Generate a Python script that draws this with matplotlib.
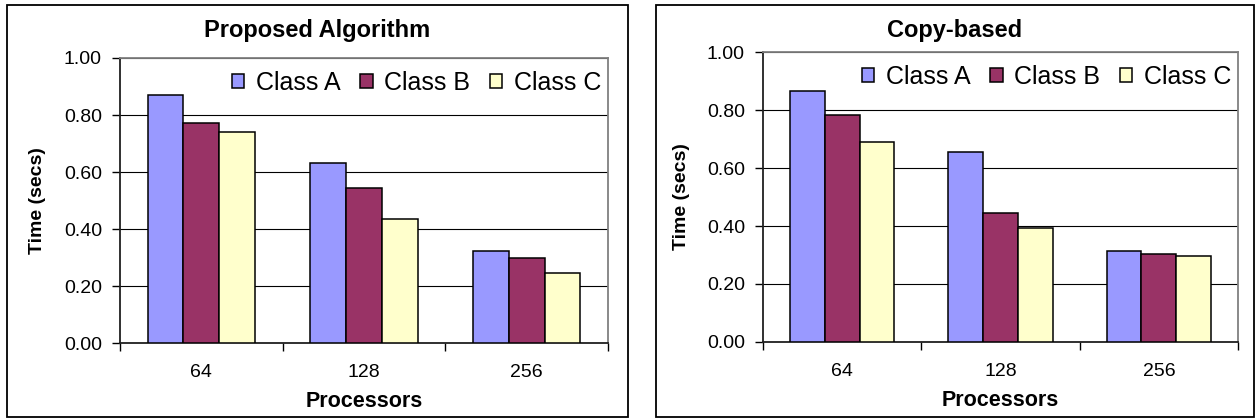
import matplotlib
matplotlib.use("Agg")
import matplotlib.pyplot as plt
from matplotlib.patches import Rectangle
import numpy as np

plt.rcParams['font.family'] = ['Liberation Sans', 'DejaVu Sans']

categories = ["64", "128", "256"]
series_names = ["Class A", "Class B", "Class C"]
colors = ["#9999FF", "#993366", "#FFFFCC"]

proposed_a = [0.871, 0.632, 0.322]
proposed_b = [0.771, 0.543, 0.297]
proposed_c = [0.740, 0.435, 0.245]

copy_a = [0.864, 0.654, 0.315]
copy_b = [0.783, 0.444, 0.302]
copy_c = [0.691, 0.394, 0.295]

yticks = [0.0, 0.2, 0.4, 0.6, 0.8, 1.0]
ytick_labels = ["0.00", "0.20", "0.40", "0.60", "0.80", "1.00"]

W, H = 1256, 419
fig = plt.figure(figsize=(W / 100, H / 100), dpi=100)

def fx(px):
    return px / W

def fy(py):
    return 1 - py / H

def panel(frame, axbox, title, title_x, data, ylabelpad, leg_y):
    x0, y0, x1, y1 = frame
    fig.patches.append(Rectangle((fx(x0), fy(y1)), fx(x1) - fx(x0), fy(y0) - fy(y1),
                                 transform=fig.transFigure, fill=False,
                                 edgecolor="black", linewidth=1.3))
    ax0, ay0, ax1, ay1 = axbox
    ax = fig.add_axes([fx(ax0), fy(ay1), fx(ax1) - fx(ax0), fy(ay0) - fy(ay1)])
    x = np.arange(len(categories))
    bw = 0.22
    for i, (vals, name, c) in enumerate(zip(data, series_names, colors)):
        ax.bar(x + (i - 1) * bw, vals, width=bw, color=c, edgecolor="black",
               linewidth=1.1, label=name, zorder=3)
    ax.set_xlim(-0.5, len(categories) - 0.5)
    ax.set_ylim(0, 1.0)
    ax.set_yticks(yticks)
    ax.set_yticklabels(ytick_labels, fontsize=14)
    ax.yaxis.grid(True, color="black", linewidth=0.8, zorder=0)
    ax.set_axisbelow(True)
    ax.set_xticks(x)
    ax.set_xticklabels(categories, fontsize=14)
    ax.set_xticks(np.arange(-0.5, len(categories)), minor=True)
    ax.tick_params(axis="x", which="major", length=0, pad=15)
    ax.tick_params(axis="x", which="minor", length=6, width=1, direction="out")
    ax.tick_params(axis="y", length=6, width=1, direction="out", pad=7)
    for s in ["top", "right"]:
        ax.spines[s].set_color("#808080")
        ax.spines[s].set_linewidth(1.3)
    for s in ["left", "bottom"]:
        ax.spines[s].set_color("#202020")
        ax.spines[s].set_linewidth(1.3)
    ax.set_xlabel("Processors", fontsize=15.5, fontweight="bold", labelpad=7)
    ax.set_ylabel("Time (secs)", fontsize=14, fontweight="bold", labelpad=ylabelpad)
    width_px = ax1 - ax0
    height_px = ay1 - ay0
    ax.legend(loc="center right",
              bbox_to_anchor=(1 - 7 / width_px, 1 - leg_y / height_px),
              ncol=3, frameon=False, fontsize=18, handlelength=0.5,
              handleheight=0.45, handletextpad=0.45, columnspacing=0.8,
              borderaxespad=0, borderpad=0)
    fig.text(fx(title_x), fy(31), title, fontsize=17, fontweight="bold",
             ha="center", va="center")
    return ax

panel((7, 5, 628, 417), (120, 58, 608, 343), "Proposed Algorithm", 317,
      [proposed_a, proposed_b, proposed_c], 13, 25)
panel((656, 5, 1254, 417), (763, 52, 1238, 342), "Copy-based", 955,
      [copy_a, copy_b, copy_c], 12, 25)

fig.savefig("out.png", dpi=100, facecolor="white")
